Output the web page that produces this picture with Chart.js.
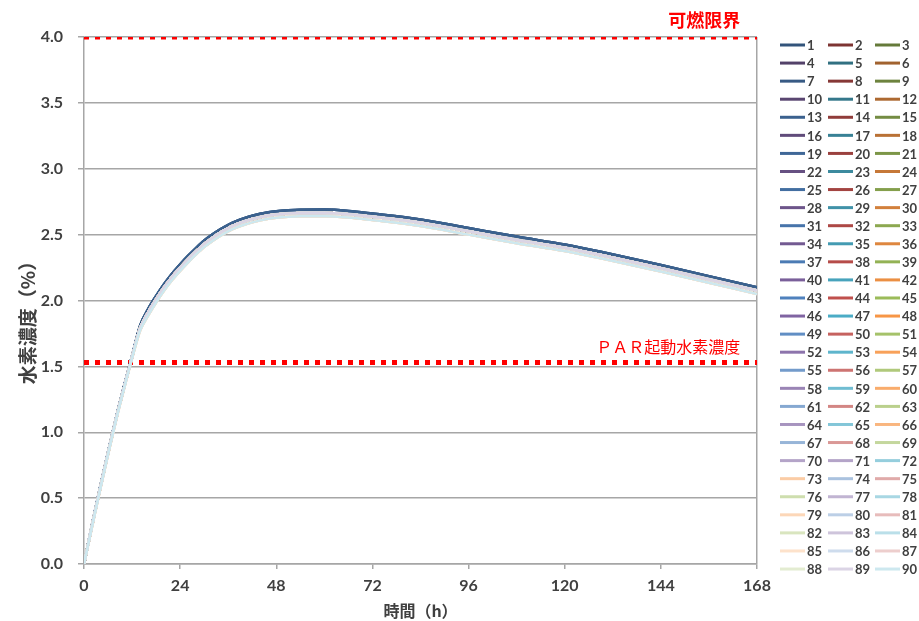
<!DOCTYPE html>
<html>
<head>
<meta charset="utf-8">
<script src="https://cdn.jsdelivr.net/npm/chart.js@4.4.1/dist/chart.umd.min.js"></script>
<style>
  html, body { margin: 0; padding: 0; background: #ffffff; }
  #wrap { width: 919px; height: 621px; }
</style>
</head>
<body>
<div id="wrap"><canvas id="chart" width="919" height="621"></canvas></div>
<script>
// time (h)
const hours = [0, 2, 4, 6, 8, 10, 12, 14, 16, 18, 20, 22, 24, 26, 28, 30, 32, 34, 36, 38, 40, 42, 44, 46, 48, 51, 54, 60, 66, 72, 84, 96, 108, 120, 129, 144, 156, 168]

// hydrogen concentration (%) -- the 90 cases sit in a narrow band
const upperCase = [0, 0.30, 0.58, 0.85, 1.11, 1.35, 1.58, 1.81, 1.935, 2.035, 2.125, 2.205, 2.275, 2.34, 2.40, 2.455, 2.50, 2.54, 2.575, 2.603, 2.625, 2.643, 2.658, 2.67, 2.678, 2.685, 2.689, 2.69, 2.68, 2.66, 2.615, 2.55, 2.485, 2.425, 2.37, 2.27, 2.185, 2.10]
const middleCase = [0, 0.29, 0.57, 0.84, 1.10, 1.34, 1.57, 1.79, 1.91, 2.01, 2.10, 2.18, 2.25, 2.315, 2.375, 2.43, 2.475, 2.515, 2.55, 2.578, 2.60, 2.618, 2.633, 2.645, 2.653, 2.66, 2.664, 2.665, 2.655, 2.635, 2.59, 2.525, 2.46, 2.40, 2.345, 2.245, 2.16, 2.075]
const lowerCase = [0, 0.28, 0.56, 0.83, 1.09, 1.33, 1.56, 1.77, 1.885, 1.985, 2.075, 2.155, 2.225, 2.29, 2.35, 2.405, 2.45, 2.49, 2.525, 2.553, 2.575, 2.593, 2.608, 2.62, 2.628, 2.635, 2.639, 2.64, 2.63, 2.61, 2.565, 2.50, 2.435, 2.375, 2.32, 2.22, 2.135, 2.05]

// which cases run on the upper / lower edge of the band
const upperSeries = [1, 7, 13]
const lowerSeries = [73, 79, 85, 90]
const seriesCount = 90

// reference levels
const flammableLimit = 4.0
const parStartLevel = 1.53
const xTicks = { min: 0, max: 168, step: 24 }
const yTicks = { min: 0, max: 4, step: 0.5 }

const accents = [[79, 129, 189], [192, 80, 77], [155, 187, 89], [128, 100, 162], [75, 172, 198], [247, 150, 70]]

function seriesColor(n) {
  const a = accents[(n <= 70 ? n - 1 : n - 2) % 6]
  const t = (Math.floor((n - 1) / 6) - 7) / 7
  let c
  if (t < 0) c = a.map(v => Math.round(v * (1 + t * 0.35)))
  else c = a.map(v => Math.round(v + (255 - v) * t * 0.72))
  return `rgb(${c[0]}, ${c[1]}, ${c[2]})`
}

const toPoints = vals => hours.map((h, i) => ({ x: h, y: vals[i] }))

const datasets = []
for (let n = 1; n <= seriesCount; n++) {
  let vals = middleCase
  if (upperSeries.includes(n)) vals = upperCase
  if (lowerSeries.includes(n)) vals = lowerCase
  datasets.push({
    label: String(n),
    data: toPoints(vals),
    borderColor: seriesColor(n),
    backgroundColor: seriesColor(n),
    borderWidth: 2.5,
    pointRadius: 0,
    cubicInterpolationMode: "monotone",
    order: seriesCount - n + 2
  })
}

const refLine = v => ({
  label: "",
  data: [{ x: xTicks.min, y: v }, { x: xTicks.max, y: v }],
  borderColor: "#ff0000",
  borderWidth: 5,
  borderDash: [5, 6],
  borderCapStyle: "butt",
  pointRadius: 0,
  order: 200,
  isRef: true
})
datasets.push(refLine(flammableLimit))
datasets.push(refLine(parStartLevel))

const textColor = "#404040"
const gridColor = "#a6a6a6"

const refLabels = {
  id: "refLabels",
  afterDatasetsDraw(chart) {
    const { ctx, scales } = chart
    const xr = scales.x.getPixelForValue(163.8)
    ctx.save()
    ctx.fillStyle = "#ff0000"
    ctx.textAlign = "right"
    ctx.textBaseline = "middle"
    ctx.font = "bold 18px 'Noto Sans CJK JP'"
    ctx.fillText("可燃限界", xr, scales.y.getPixelForValue(flammableLimit) - 17)
    ctx.font = "16px 'Noto Sans CJK JP'"
    ctx.fillText("ＰＡＲ起動水素濃度", xr, scales.y.getPixelForValue(parStartLevel) - 16)

    // y axis title
    ctx.translate(28, 318)
    ctx.rotate(-Math.PI / 2)
    ctx.textAlign = "center"
    ctx.fillStyle = textColor
    ctx.font = "bold 19px 'Noto Sans CJK JP'"
    ctx.fillText("水素濃度（%）", 0, 0)
    ctx.restore()
  }
}

const gridLegend = {
  id: "gridLegend",
  afterDraw(chart) {
    const { ctx } = chart
    const items = chart.data.datasets.filter(d => !d.isRef)
    const colX = [780, 828, 875]
    ctx.save()
    ctx.font = "bold 13px Lato"
    ctx.textBaseline = "middle"
    ctx.textAlign = "left"
    items.forEach((d, i) => {
      const x = colX[i % 3]
      const y = 45 + Math.floor(i / 3) * 18.07
      ctx.strokeStyle = d.borderColor
      ctx.lineWidth = 3
      ctx.beginPath()
      ctx.moveTo(x, y)
      ctx.lineTo(x + 25, y)
      ctx.stroke()
      ctx.fillStyle = textColor
      ctx.fillText(d.label, x + 27, y + 1)
    })
    ctx.restore()
  }
}

new Chart(document.getElementById("chart").getContext("2d"), {
  type: "line",
  data: { datasets },
  plugins: [refLabels, gridLegend],
  options: {
    responsive: false,
    animation: false,
    events: [],
    layout: { padding: { top: 37, right: 162, left: 0, bottom: 0 } },
    plugins: {
      legend: { display: false },
      tooltip: { enabled: false }
    },
    scales: {
      x: {
        type: "linear",
        min: xTicks.min,
        max: xTicks.max,
        afterFit: s => { s.height = 57 },
        ticks: {
          stepSize: xTicks.step,
          color: textColor,
          font: { family: "Lato", weight: "bold", size: 16 },
          padding: 7
        },
        grid: {
          color: c => (c.tick && c.tick.value === xTicks.max ? gridColor : "rgba(0,0,0,0)"),
          tickColor: gridColor,
          tickLength: 5,
          lineWidth: 1.5
        },
        border: { color: gridColor, width: 1.5 },
        title: {
          display: true,
          text: "時間（h）",
          color: textColor,
          font: { family: "'Noto Sans CJK JP'", weight: "bold", size: 16 },
          padding: { top: 0, bottom: 0 }
        }
      },
      y: {
        min: yTicks.min,
        max: yTicks.max,
        afterFit: s => { s.width = 84 },
        ticks: {
          stepSize: yTicks.step,
          color: textColor,
          font: { family: "Lato", weight: "bold", size: 16 },
          padding: 15,
          callback: v => v.toFixed(1)
        },
        grid: {
          color: gridColor,
          tickColor: gridColor,
          tickLength: 6,
          lineWidth: 1.5
        },
        border: { color: gridColor, width: 1.5 }
      }
    }
  }
})
</script>
</body>
</html>
